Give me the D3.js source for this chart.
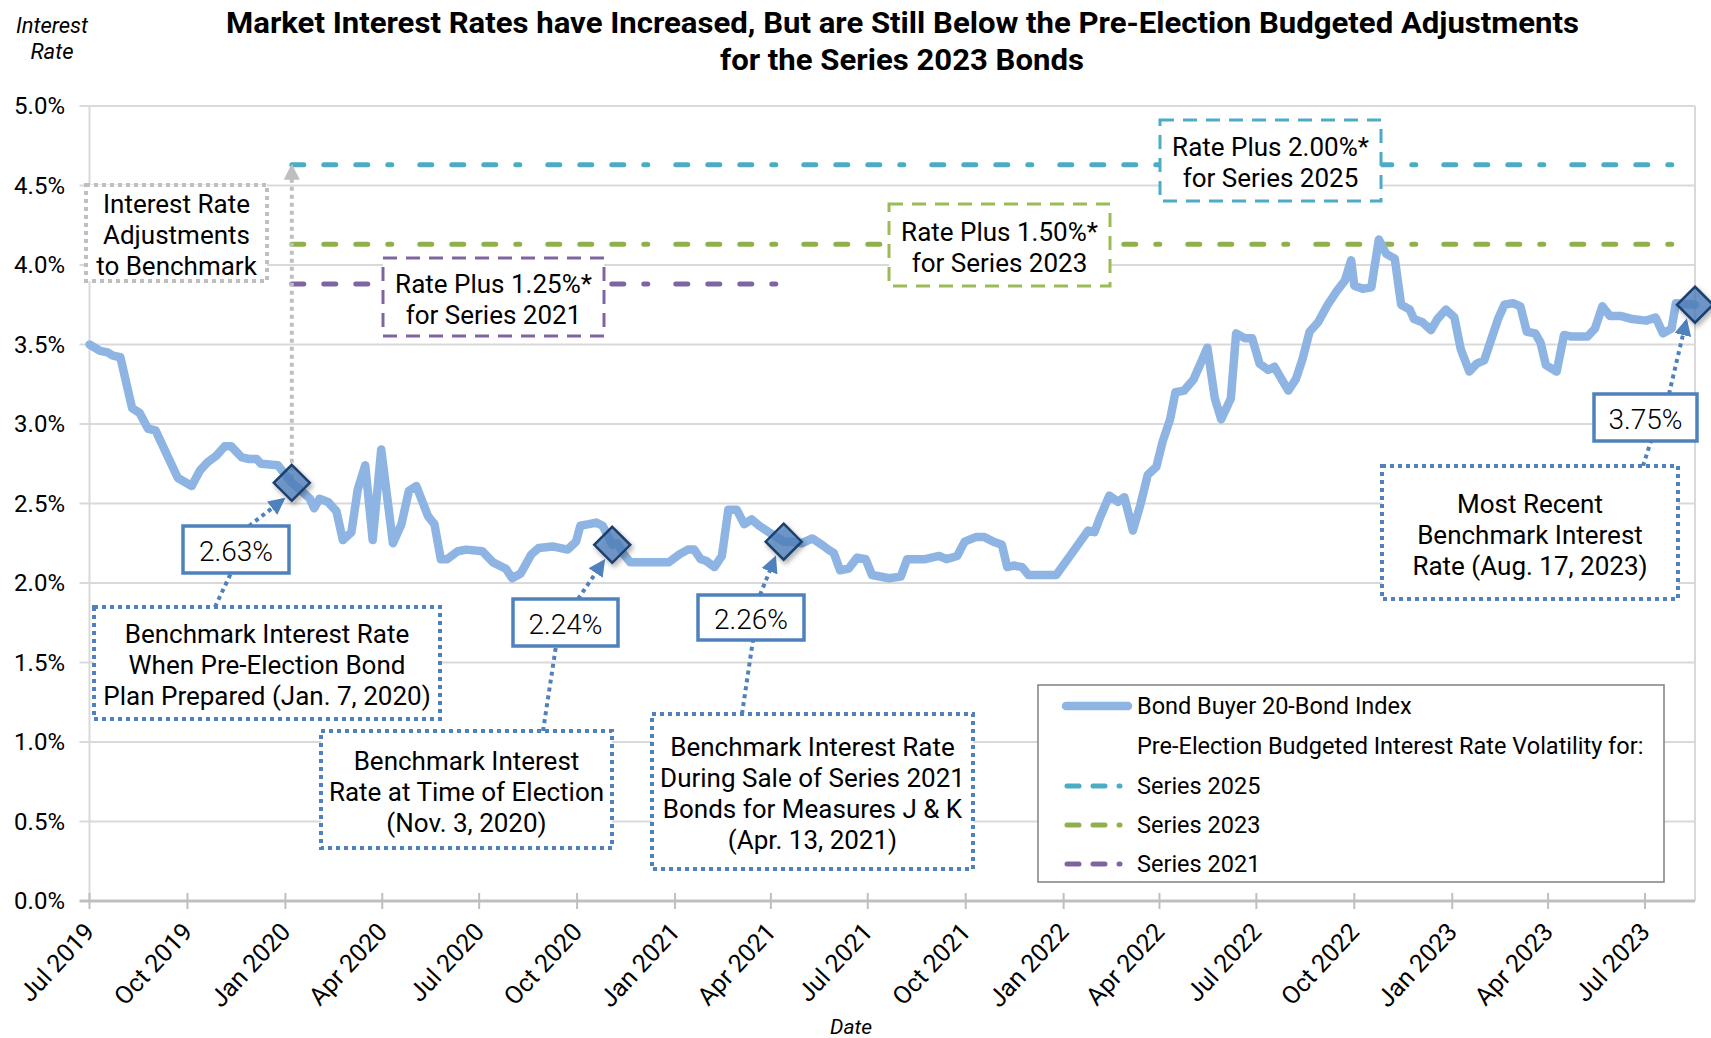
<!DOCTYPE html>
<html>
<head>
<meta charset="utf-8">
<title>Market Interest Rates vs Pre-Election Budgeted Adjustments</title>
<script src="https://cdn.jsdelivr.net/npm/d3@7"></script>
<style>
  body { margin: 0; background: #fff; }
  svg { display: block; font-family: Roboto, "Noto Sans", sans-serif; }
</style>
</head>
<body>
<svg id="chart" width="1711" height="1038"></svg>
<script>
// Bond Buyer 20-Bond Index
var rateDates = [
  "2019-07-01","2019-07-11","2019-07-18","2019-07-23","2019-07-30","2019-08-10","2019-08-17","2019-08-25",
  "2019-09-01","2019-09-22","2019-10-05","2019-10-13","2019-10-20","2019-10-28","2019-11-05","2019-11-11",
  "2019-11-21","2019-11-28","2019-12-05","2019-12-09","2019-12-25","2020-01-07","2020-01-16","2020-01-24",
  "2020-01-28","2020-02-02","2020-02-10","2020-02-18","2020-02-24","2020-03-03","2020-03-09","2020-03-16",
  "2020-03-23","2020-03-31","2020-04-11","2020-04-19","2020-04-26","2020-05-03","2020-05-14","2020-05-20",
  "2020-05-26","2020-06-01","2020-06-11","2020-06-19","2020-07-04","2020-07-14","2020-07-26","2020-08-01",
  "2020-08-09","2020-08-19","2020-08-26","2020-09-08","2020-09-22","2020-09-30","2020-10-04","2020-10-12",
  "2020-10-19","2020-10-25","2020-11-03","2020-11-08","2020-11-14","2020-11-20","2020-12-26","2021-01-05",
  "2021-01-13","2021-01-19","2021-01-25","2021-01-30","2021-02-07","2021-02-14","2021-02-20","2021-02-28",
  "2021-03-07","2021-03-14","2021-03-21","2021-03-30","2021-04-13","2021-04-21","2021-04-30","2021-05-10",
  "2021-05-19","2021-05-25","2021-05-30","2021-06-05","2021-06-13","2021-06-21","2021-06-29","2021-07-05",
  "2021-07-21","2021-08-01","2021-08-07","2021-08-24","2021-09-06","2021-09-13","2021-09-23","2021-09-30",
  "2021-10-11","2021-10-18","2021-10-27","2021-11-04","2021-11-09","2021-11-15","2021-11-23","2021-11-29",
  "2021-12-25","2022-01-08","2022-01-24","2022-01-30","2022-02-04","2022-02-13","2022-02-21","2022-02-27",
  "2022-03-07","2022-03-14","2022-03-21","2022-03-29","2022-04-04","2022-04-11","2022-04-16","2022-04-24",
  "2022-05-03","2022-05-16","2022-05-23","2022-05-29","2022-06-07","2022-06-12","2022-06-20","2022-06-27",
  "2022-07-04","2022-07-12","2022-07-18","2022-07-24","2022-07-31","2022-08-07","2022-08-13","2022-08-20",
  "2022-08-28","2022-09-06","2022-09-15","2022-09-22","2022-09-28","2022-10-01","2022-10-09","2022-10-17",
  "2022-10-24","2022-10-31","2022-11-08","2022-11-14","2022-11-22","2022-11-26","2022-12-04","2022-12-12",
  "2022-12-18","2022-12-26","2023-01-03","2023-01-09","2023-01-17","2023-01-24","2023-01-31","2023-02-07",
  "2023-02-13","2023-02-19","2023-02-27","2023-03-06","2023-03-12","2023-03-20","2023-03-25","2023-03-30",
  "2023-04-09","2023-04-16","2023-04-23","2023-05-08","2023-05-15","2023-05-22","2023-05-29","2023-06-08",
  "2023-06-19","2023-07-02","2023-07-11","2023-07-18","2023-07-26","2023-07-30","2023-08-17"
];
var rateValues = [
  3.50,3.46,3.45,3.43,3.42,3.10,3.07,2.97,
  2.96,2.66,2.61,2.71,2.76,2.80,2.86,2.86,
  2.79,2.78,2.78,2.75,2.74,2.63,2.58,2.53,
  2.47,2.53,2.51,2.45,2.27,2.32,2.59,2.74,
  2.27,2.84,2.25,2.37,2.58,2.61,2.42,2.37,
  2.15,2.15,2.20,2.21,2.20,2.13,2.09,2.03,
  2.06,2.18,2.22,2.23,2.21,2.26,2.36,2.37,
  2.38,2.36,2.24,2.25,2.18,2.13,2.13,2.18,
  2.21,2.21,2.15,2.14,2.10,2.17,2.46,2.46,
  2.37,2.40,2.36,2.32,2.26,2.26,2.25,2.28,
  2.24,2.21,2.19,2.08,2.09,2.16,2.15,2.05,
  2.03,2.04,2.15,2.15,2.17,2.15,2.17,2.26,
  2.29,2.29,2.26,2.24,2.10,2.11,2.10,2.05,
  2.05,2.18,2.33,2.32,2.41,2.55,2.51,2.54,
  2.33,2.49,2.68,2.73,2.89,3.03,3.20,3.21,
  3.28,3.48,3.16,3.03,3.16,3.57,3.54,3.54,
  3.38,3.34,3.36,3.29,3.21,3.28,3.40,3.58,
  3.64,3.75,3.84,3.90,4.03,3.87,3.85,3.86,
  4.16,4.07,4.04,3.75,3.72,3.66,3.64,3.59,
  3.66,3.72,3.67,3.47,3.33,3.38,3.40,3.54,
  3.66,3.75,3.76,3.74,3.58,3.57,3.51,3.37,
  3.33,3.56,3.55,3.55,3.60,3.74,3.68,3.68,
  3.66,3.65,3.67,3.57,3.60,3.76,3.75
];

// budgeted adjustments (benchmark 2.63% plus margin), start Jan 7 2020
var volSeries = ["Series 2025", "Series 2023", "Series 2021"];
var volValues = [4.63, 4.13, 3.88];
var volStart = "2020-01-07";
var volEnd = ["2023-08-17", "2023-08-17", "2021-04-13"];
var volColors = ["#4BACC6", "#8FB04C", "#8064A2"];

// highlighted benchmark points
var markDates = ["2020-01-07", "2020-11-03", "2021-04-13", "2023-08-17"];
var markValues = [2.63, 2.24, 2.26, 3.75];

var yTicks = [0, 0.5, 1, 1.5, 2, 2.5, 3, 3.5, 4, 4.5, 5];
var xTicks = ["2019-07-01","2019-10-01","2020-01-01","2020-04-01","2020-07-01","2020-10-01","2021-01-01",
  "2021-04-01","2021-07-01","2021-10-01","2022-01-01","2022-04-01","2022-07-01","2022-10-01","2023-01-01",
  "2023-04-01","2023-07-01"];

var parse = d3.timeParse("%Y-%m-%d");
var fmtX = d3.timeFormat("%b %Y");

var svg = d3.select("#chart");
var plotL = 89.5, plotR = 1695, plotT = 106, plotB = 901;

var x = d3.scaleTime().domain([parse("2019-07-01"), parse("2023-08-17")]).range([plotL, plotR]);
var y = d3.scaleLinear().domain([0, 5]).range([plotB, plotT]);

var defs = svg.append("defs");
defs.append("filter").attr("id", "shadow").attr("x", "-50%").attr("y", "-50%").attr("width", "200%").attr("height", "200%")
  .append("feDropShadow").attr("dx", 2).attr("dy", 3).attr("stdDeviation", 2.5)
  .attr("flood-color", "#000").attr("flood-opacity", 0.35);
defs.append("marker").attr("id", "arrBlue").attr("viewBox", "0 0 10 10").attr("refX", 8).attr("refY", 5)
  .attr("markerUnits", "userSpaceOnUse").attr("markerWidth", 17).attr("markerHeight", 17).attr("orient", "auto")
  .append("path").attr("d", "M0,0L10,5L0,10Z").attr("fill", "#4F81BD");
defs.append("marker").attr("id", "arrGray").attr("viewBox", "0 0 10 10").attr("refX", 8).attr("refY", 5)
  .attr("markerUnits", "userSpaceOnUse").attr("markerWidth", 16).attr("markerHeight", 16).attr("orient", "auto")
  .append("path").attr("d", "M0,0L10,5L0,10Z").attr("fill", "#BFBFBF");

// title
var title = svg.append("g").attr("font-weight", 700).attr("font-size", 30).attr("fill", "#000");
title.append("text").attr("x", 226).attr("y", 33).attr("textLength", 1353).attr("lengthAdjust", "spacingAndGlyphs")
  .text("Market Interest Rates have Increased, But are Still Below the Pre-Election Budgeted Adjustments");
title.append("text").attr("x", 720).attr("y", 70).attr("textLength", 364).attr("lengthAdjust", "spacingAndGlyphs")
  .text("for the Series 2023 Bonds");

svg.append("text").attr("x", 52).attr("y", 33).attr("text-anchor", "middle").attr("font-style", "italic")
  .attr("font-size", 22).text("Interest");
svg.append("text").attr("x", 52).attr("y", 59).attr("text-anchor", "middle").attr("font-style", "italic")
  .attr("font-size", 22).text("Rate");
svg.append("text").attr("x", 851).attr("y", 1034).attr("text-anchor", "middle").attr("font-style", "italic")
  .attr("font-size", 21).text("Date");

// gridlines + y labels
var grid = svg.append("g");
grid.selectAll("line.g").data(yTicks.filter(function (d) { return d > 0; })).enter().append("line")
  .attr("x1", plotL - 10).attr("x2", plotR)
  .attr("y1", function (d) { return y(d); }).attr("y2", function (d) { return y(d); })
  .attr("stroke", "#D9D9D9").attr("stroke-width", 2);
grid.append("line").attr("x1", plotL).attr("x2", plotL).attr("y1", plotT).attr("y2", plotB)
  .attr("stroke", "#D9D9D9").attr("stroke-width", 2);
grid.append("line").attr("x1", plotR).attr("x2", plotR).attr("y1", plotT).attr("y2", plotB)
  .attr("stroke", "#D9D9D9").attr("stroke-width", 2);
grid.selectAll("line.t").data(xTicks).enter().append("line")
  .attr("x1", function (d) { return x(parse(d)); }).attr("x2", function (d) { return x(parse(d)); })
  .attr("y1", plotB - 8).attr("y2", plotB + 8)
  .attr("stroke", "#BFBFBF").attr("stroke-width", 2);
grid.append("line").attr("x1", plotL - 10).attr("x2", plotR).attr("y1", y(0)).attr("y2", y(0))
  .attr("stroke", "#BFBFBF").attr("stroke-width", 3);

grid.selectAll("text.y").data(yTicks).enter().append("text")
  .attr("x", 65).attr("y", function (d) { return y(d); }).attr("dy", "0.35em")
  .attr("text-anchor", "end").attr("font-size", 24).attr("fill", "#000")
  .text(function (d) { return d.toFixed(1) + "%"; });

grid.selectAll("text.x").data(xTicks).enter().append("text")
  .attr("transform", function (d) { return "translate(" + (x(parse(d)) + 0) + "," + 927 + ") rotate(-47)"; })
  .attr("dy", "0.35em").attr("text-anchor", "end").attr("font-size", 25).attr("fill", "#000")
  .text(function (d) { return fmtX(parse(d)); });

// budgeted adjustment lines
var excelDash = "12,20,12,20,12,20,4,28";
svg.append("g").selectAll("line").data(volValues).enter().append("line")
  .attr("x1", x(parse(volStart))).attr("x2", function (d, i) { return x(parse(volEnd[i])); })
  .attr("y1", function (d) { return y(d); }).attr("y2", function (d) { return y(d); })
  .attr("stroke", function (d, i) { return volColors[i]; }).attr("stroke-width", 5)
  .attr("stroke-linecap", "round").attr("stroke-dasharray", excelDash);

// gray arrow from benchmark up to adjustments
svg.append("line")
  .attr("x1", x(parse(markDates[0]))).attr("x2", x(parse(markDates[0])))
  .attr("y1", y(markValues[0]) - 4).attr("y2", y(volValues[0]) + 2)
  .attr("stroke", "#BFBFBF").attr("stroke-width", 4).attr("stroke-dasharray", "4,4")
  .attr("marker-end", "url(#arrGray)");

// index line
var rows = rateDates.map(function (d, i) { return { date: parse(d), value: rateValues[i] }; });
var line = d3.line().x(function (d) { return x(d.date); }).y(function (d) { return y(d.value); });
svg.append("path").datum(rows).attr("d", line).attr("fill", "none")
  .attr("stroke", "#8DB4E2").attr("stroke-width", 8.5).attr("stroke-linejoin", "round").attr("stroke-linecap", "round");

// annotation boxes
function box(g, b) {
  g.append("rect").attr("x", b.x).attr("y", b.y).attr("width", b.w).attr("height", b.h)
    .attr("fill", "#fff").attr("stroke", b.stroke).attr("stroke-width", b.sw || 3)
    .attr("stroke-dasharray", b.dash || null);
  var cy = b.y + b.h / 2 + 2, n = b.lines.length;
  b.lines.forEach(function (t, i) {
    g.append("text").attr("x", b.x + b.w / 2).attr("y", cy + (i - (n - 1) / 2) * 31).attr("dy", "0.35em")
      .attr("text-anchor", "middle").attr("font-size", b.fs || 26).attr("fill", "#000")
      .attr("font-weight", b.fw || 400).text(t);
  });
}
var ann = svg.append("g");
box(ann, { x: 86, y: 185, w: 181, h: 96, stroke: "#BFBFBF", sw: 4, dash: "4,4",
  lines: ["Interest Rate", "Adjustments", "to Benchmark"] });
box(ann, { x: 383, y: 258, w: 221, h: 78, stroke: volColors[2], dash: "14,9",
  lines: ["Rate Plus 1.25%*", "for Series 2021"] });
box(ann, { x: 889, y: 204, w: 221, h: 82, stroke: "#9BBB59", dash: "14,9",
  lines: ["Rate Plus 1.50%*", "for Series 2023"] });
box(ann, { x: 1160, y: 120, w: 221, h: 81, stroke: volColors[0], dash: "14,9",
  lines: ["Rate Plus 2.00%*", "for Series 2025"] });

var noteBoxes = [
  { x: 94, y: 607, w: 346, h: 112, lines: ["Benchmark Interest Rate", "When Pre-Election Bond", "Plan Prepared (Jan. 7, 2020)"], ax: 215, bx: 231, cx: 249 },
  { x: 321, y: 731, w: 291, h: 117, lines: ["Benchmark Interest", "Rate at Time of Election", "(Nov. 3, 2020)"], ax: 543, bx: 556, cx: 578 },
  { x: 652, y: 714, w: 321, h: 155, lines: ["Benchmark Interest Rate", "During Sale of Series 2021", "Bonds for Measures J & K", "(Apr. 13, 2021)"], ax: 742, bx: 753, cx: 760 },
  { x: 1382, y: 466, w: 296, h: 133, lines: ["Most Recent", "Benchmark Interest", "Rate (Aug. 17, 2023)"], ax: 1643, bx: 1651, cx: 1669 }
];
var valueBoxes = [
  { x: 183, y: 526, w: 106, h: 47 },
  { x: 513, y: 599, w: 105, h: 47 },
  { x: 698, y: 595, w: 106, h: 45 },
  { x: 1594, y: 394, w: 103, h: 47 }
];

noteBoxes.forEach(function (b, i) {
  var vb = valueBoxes[i];
  ann.append("line").attr("x1", b.ax).attr("y1", b.y).attr("x2", b.bx).attr("y2", vb.y + vb.h)
    .attr("stroke", "#4F81BD").attr("stroke-width", 4).attr("stroke-dasharray", "4,4");
  ann.append("line").attr("x1", b.cx).attr("y1", vb.y)
    .attr("x2", x(parse(markDates[i])) - 9).attr("y2", y(markValues[i]) + 17)
    .attr("stroke", "#4F81BD").attr("stroke-width", 4).attr("stroke-dasharray", "4,4")
    .attr("marker-end", "url(#arrBlue)");
  box(ann, { x: b.x, y: b.y, w: b.w, h: b.h, stroke: "#4F81BD", sw: 4, dash: "4,4", lines: b.lines });
  box(ann, { x: vb.x, y: vb.y, w: vb.w, h: vb.h, stroke: "#4F81BD", sw: 3.5, fw: 300, fs: 28,
    lines: [markValues[i].toFixed(2) + "%"] });
});

// diamonds
svg.append("g").selectAll("path").data(markDates).enter().append("path")
  .attr("transform", function (d, i) { return "translate(" + x(parse(d)) + "," + y(markValues[i]) + ")"; })
  .attr("d", "M0,-18L18,0L0,18L-18,0Z")
  .attr("fill", "#4F81BD").attr("fill-opacity", 0.75)
  .attr("stroke", "#1F3F6E").attr("stroke-width", 2.5)
  .attr("filter", "url(#shadow)");

// legend
var lg = svg.append("g");
lg.append("rect").attr("x", 1038).attr("y", 685).attr("width", 626).attr("height", 197)
  .attr("fill", "#fff").attr("stroke", "#808080").attr("stroke-width", 1.5);
lg.append("line").attr("x1", 1066).attr("x2", 1128).attr("y1", 706).attr("y2", 706)
  .attr("stroke", "#8DB4E2").attr("stroke-width", 8.5).attr("stroke-linecap", "round");
lg.append("text").attr("x", 1137).attr("y", 706).attr("dy", "0.35em").attr("font-size", 23.5)
  .text("Bond Buyer 20-Bond Index");
lg.append("text").attr("x", 1137).attr("y", 746).attr("dy", "0.35em").attr("font-size", 23.5)
  .text("Pre-Election Budgeted Interest Rate Volatility for:");
volSeries.forEach(function (s, i) {
  var ly = 786 + i * 39;
  lg.append("line").attr("x1", 1067).attr("x2", 1134).attr("y1", ly).attr("y2", ly)
    .attr("stroke", volColors[i]).attr("stroke-width", 5).attr("stroke-linecap", "round")
    .attr("stroke-dasharray", "12,14,12,14,1,100");
  lg.append("text").attr("x", 1137).attr("y", ly).attr("dy", "0.35em").attr("font-size", 23.5).text(s);
});
</script>
</body>
</html>
